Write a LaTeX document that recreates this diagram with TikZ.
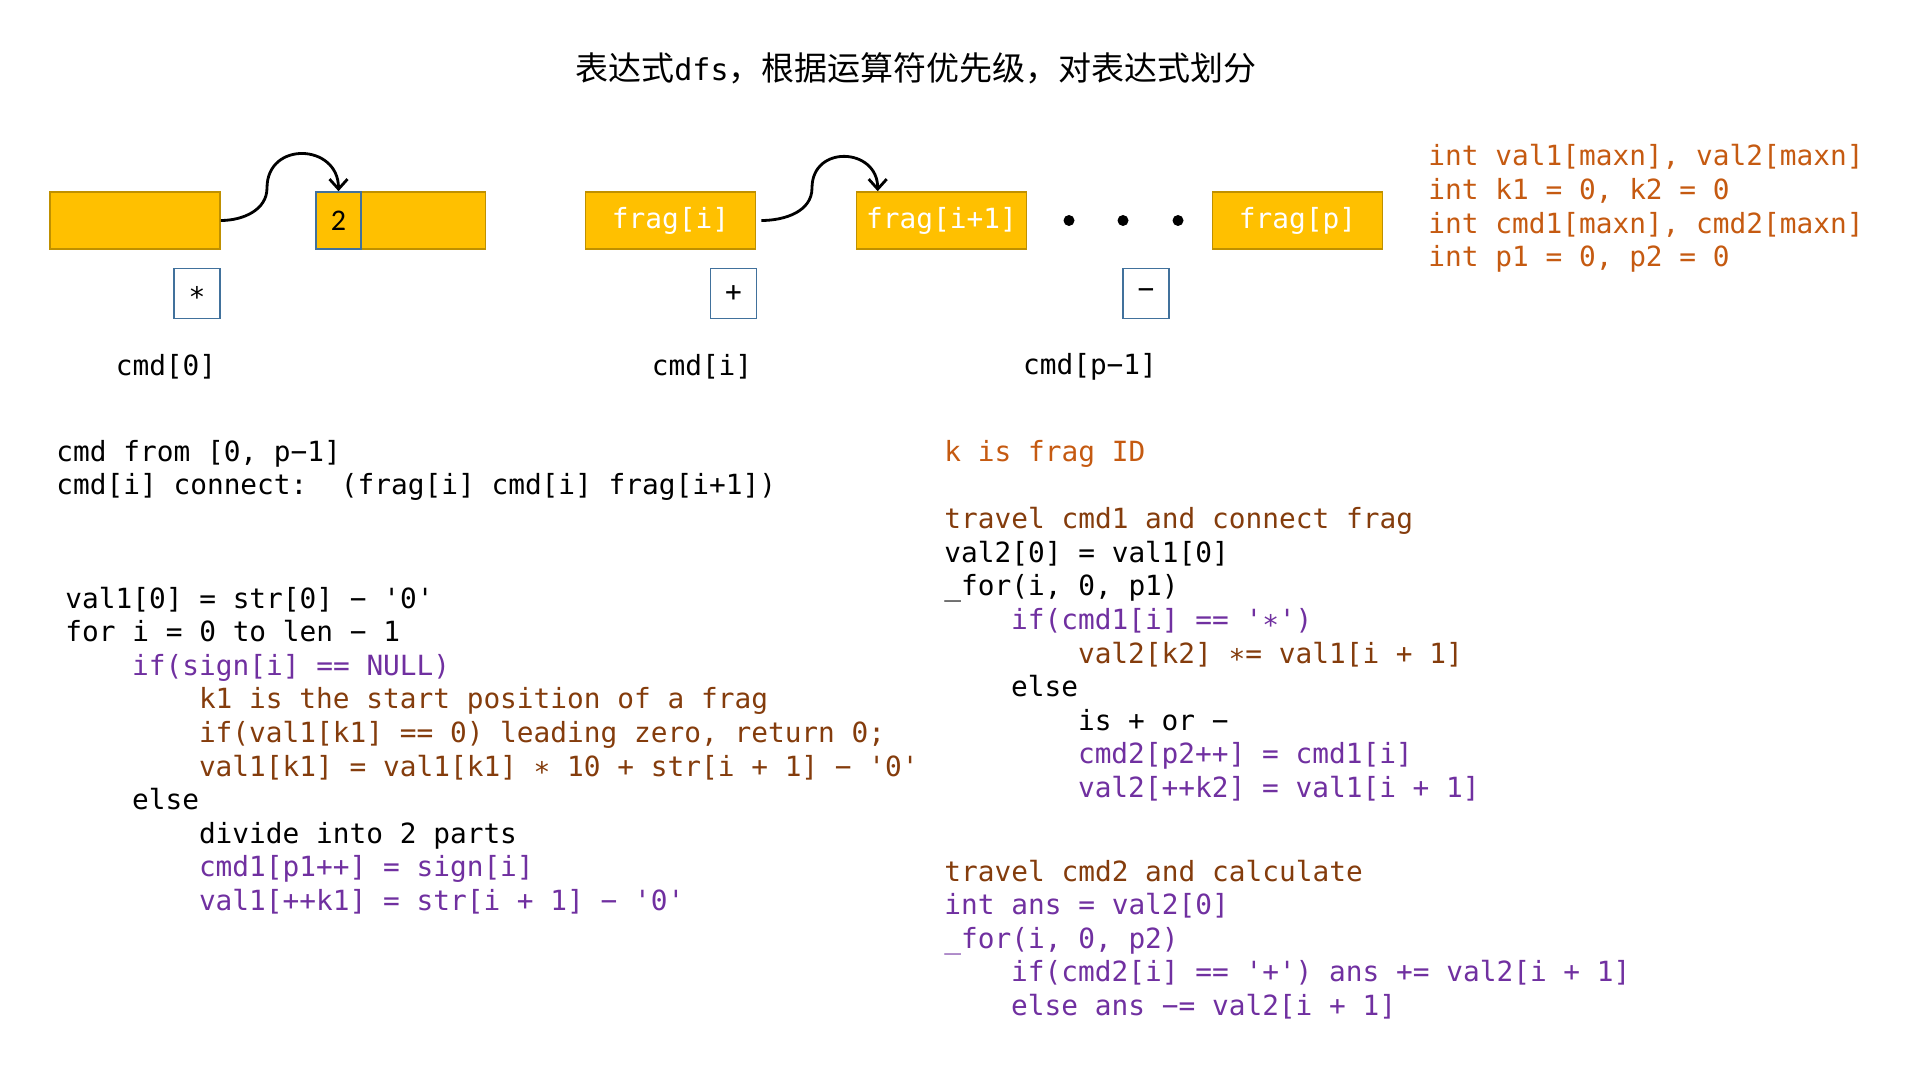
\documentclass[tikz,border=0pt]{standalone}
\usepackage{fontspec}
\setmonofont{DejaVu Sans Mono}
\newfontfamily\cjkfont{Noto Sans CJK SC}
\newfontfamily\cellfont{Carlito}
\usepackage{tikz}
\usetikzlibrary{positioning}
\usetikzlibrary{arrows.meta}

\definecolor{fraggold}{HTML}{FFC000}
\definecolor{fragedge}{HTML}{BF9000}
\definecolor{opblue}{HTML}{41719C}
\definecolor{codeorange}{HTML}{C55A11}
\definecolor{codebrown}{HTML}{843C0C}
\definecolor{codepurple}{HTML}{7030A0}

\newcommand{\codefont}{\ttfamily\fontsize{13.9}{16.8}\selectfont}

\tikzset{
    frag/.style={draw=fragedge, fill=fraggold, line width=0.8pt, minimum width=85pt, minimum height=28.5pt, inner sep=0pt, font=\codefont, text=white},
    cellbox/.style={draw=opblue, fill=fraggold, line width=0.8pt, minimum width=22.5pt, minimum height=28.5pt, inner sep=0pt, font=\cellfont\fontsize{15}{18}\selectfont},
    opbox/.style={draw=opblue, line width=0.8pt, minimum width=23pt, minimum height=25pt, inner sep=0pt, font=\codefont},
    dotnode/.style={circle, fill=black, minimum size=5.5pt, inner sep=0pt},
    codeline/.style={anchor=base west, inner sep=0pt, font=\codefont},
    link/.style={line width=1.4pt, -{Straight Barb[length=5pt,width=9pt]}},
}

\begin{document}
\begin{tikzpicture}[x=0.5pt, y=0.5pt]
    \useasboundingbox (0,0) rectangle (1920,-1080);

    % title
    \node (title) at (916,-68) {\cjkfont\fontsize{16.5}{20}\selectfont 表达式{\ttfamily\fontsize{15}{18}\selectfont dfs}，根据运算符优先级，对表达式划分};

    % fragments
    \node[frag] (bar1) at (135,-220.5) {};
    \node[frag] (bar2) at (400.5,-220.5) {};
    \node[cellbox] (cell) at (338.5,-220.5) {2};
    \node[frag] (fragi) at (670.5,-220.5) {frag[i]};
    \node[frag] (fragn) at (941.5,-220.5) {frag[i+1]};
    \node[frag] (fragp) at (1297.5,-220.5) {frag[p]};
    \node[dotnode] (dot1) at (1069,-220.5) {};
    \node[dotnode] (dot2) at (1123,-220.5) {};
    \node[dotnode] (dot3) at (1178,-220.5) {};

    % operators
    \node[opbox] (op0) at (197,-293.5) {∗};
    \node[opbox] (opi) at (733.5,-293.5) {+};
    \node[opbox] (opp) at (1146,-293.5) {−};
    \node[font=\codefont] (cmd0) at (166,-367) {cmd[0]};
    \node[font=\codefont] (cmdi) at (702,-367) {cmd[i]};
    \node[font=\codefont] (cmdp) at (1090,-367) {cmd[p−1]};

    % links
    \coordinate (bend1) at (267,-188);
    \draw[link] (bar1.east) to[out=0, in=-90] (bend1) to[out=90, in=90, looseness=1.7] (cell.north);
    \coordinate (bend2) at (812,-188);
    \draw[link] ([xshift=2.5pt]fragi.east) to[out=0, in=-90] (bend2) to[out=90, in=90, looseness=1.7] ([xshift=11pt]fragn.north west);

    % declarations
    \foreach \txt [count=\n] in {{int val1[maxn], val2[maxn]}, {int k1 = 0, k2 = 0}, {int cmd1[maxn], cmd2[maxn]}, {int p1 = 0, p2 = 0}}
        \node[codeline, text=codeorange] (decl\n) at (1428, {-166-33.6*(\n-1)}) {\txt};

    % left notes
    \node[codeline] (note1) at (56,-461) {cmd from [0, p−1]};
    \node[codeline] (note2) at (56,-494.6) {cmd[i] connect:~ (frag[i] cmd[i] frag[i+1])};

    \foreach \ind/\col/\txt [count=\n] in {
        0/black/{val1[0] = str[0] − '0'},
        0/black/{for i = 0 to len − 1},
        4/codepurple/{if(sign[i] == NULL)},
        8/codebrown/{k1 is the start position of a frag},
        8/codebrown/{if(val1[k1] == 0) leading zero, return 0;},
        8/codebrown/{val1[k1] = val1[k1] ∗ 10 + str[i + 1] − '0'},
        4/black/{else},
        8/black/{divide into 2 parts},
        8/codepurple/{cmd1[p1++] = sign[i]},
        8/codepurple/{val1[++k1] = str[i + 1] − '0'}}
        \node[codeline, text=\col] (split\n) at ({65+16.7*\ind}, {-608-33.6*(\n-1)}) {\txt};

    % right side
    \node[codeline, text=codeorange] (fragid) at (944,-461) {k is frag ID};

    \foreach \ind/\col/\txt [count=\n] in {
        0/codebrown/{travel cmd1 and connect frag},
        0/black/{val2[0] = val1[0]},
        0/black/{\_for(i, 0, p1)},
        4/codepurple/{if(cmd1[i] == '∗')},
        8/codebrown/{val2[k2] ∗= val1[i + 1]},
        4/black/{else},
        8/black/{is + or −},
        8/codepurple/{cmd2[p2++] = cmd1[i]},
        8/codepurple/{val2[++k2] = val1[i + 1]}}
        \node[codeline, text=\col] (join\n) at ({944+16.7*\ind}, {-528.6-33.6*(\n-1)}) {\txt};

    \foreach \ind/\col/\txt [count=\n] in {
        0/codebrown/{travel cmd2 and calculate},
        0/codepurple/{int ans = val2[0]},
        0/codepurple/{\_for(i, 0, p2)},
        4/codepurple/{if(cmd2[i] == '+') ans += val2[i + 1]},
        4/codepurple/{else ans −= val2[i + 1]}}
        \node[codeline, text=\col] (calc\n) at ({944+16.7*\ind}, {-881-33.6*(\n-1)}) {\txt};
\end{tikzpicture}
\end{document}
